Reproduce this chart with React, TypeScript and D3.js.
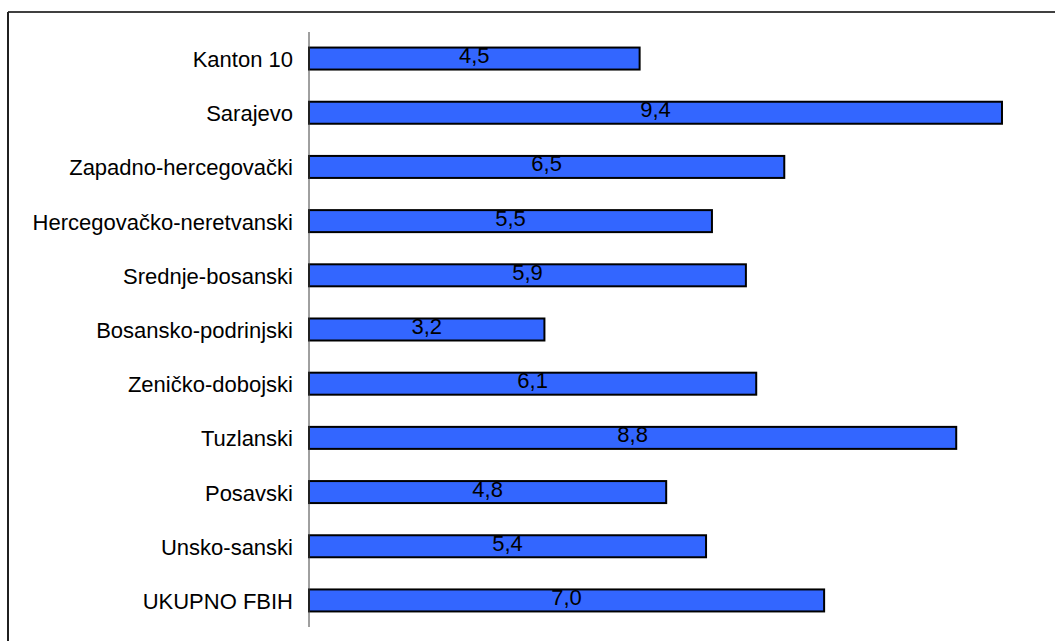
import React from "react";
import * as d3 from "d3";

const categories = [
  "Kanton 10",
  "Sarajevo",
  "Zapadno-hercegovački",
  "Hercegovačko-neretvanski",
  "Srednje-bosanski",
  "Bosansko-podrinjski",
  "Zeničko-dobojski",
  "Tuzlanski",
  "Posavski",
  "Unsko-sanski",
  "UKUPNO FBIH",
];
const values = [4.48, 9.39, 6.44, 5.46, 5.92, 3.19, 6.06, 8.77, 4.84, 5.38, 6.98];
const valueLabels = ["4,5", "9,4", "6,5", "5,5", "5,9", "3,2", "6,1", "8,8", "4,8", "5,4", "7,0"];

const W = 1055;
const H = 641;

export default function App() {
  const x = d3.scaleLinear().domain([0, 10]).range([309, 1047]);
  const y = d3
    .scaleBand<string>()
    .domain(categories)
    .range([32, 627])
    .paddingInner(0.594)
    .paddingOuter(0.287);
  const bw = y.bandwidth();
  const font = "'Liberation Sans', Arial, sans-serif";

  return (
    <svg
      width={W}
      height={H}
      style={{ position: "absolute", left: 0, top: 0, background: "#fff" }}
      fontFamily={font}
    >
      <rect x={0} y={0} width={W} height={H} fill="#fff" />
      <line x1={8} x2={W} y1={12} y2={12} stroke="#404040" strokeWidth={2} />
      <line x1={8} x2={8} y1={12} y2={H} stroke="#202020" strokeWidth={2} />
      {categories.map((c, i) => {
        const y0 = y(c)!;
        const cy = y0 + bw / 2;
        return (
          <g key={c}>
            <rect
              x={x(0)}
              y={y0}
              width={x(values[i]) - x(0)}
              height={bw}
              fill="#3366FF"
              stroke="#000"
              strokeWidth={2}
            />
            <text x={293} y={cy + 8.5} textAnchor="end" fontSize={22} fill="#000">
              {c}
            </text>
            <text
              x={(x(0) + x(values[i])) / 2}
              y={cy + 4.5}
              textAnchor="middle"
              fontSize={22}
              fill="#000"
            >
              {valueLabels[i]}
            </text>
          </g>
        );
      })}
      <line x1={x(0)} x2={x(0)} y1={32} y2={627} stroke="#404040" strokeWidth={1} />
    </svg>
  );
}
